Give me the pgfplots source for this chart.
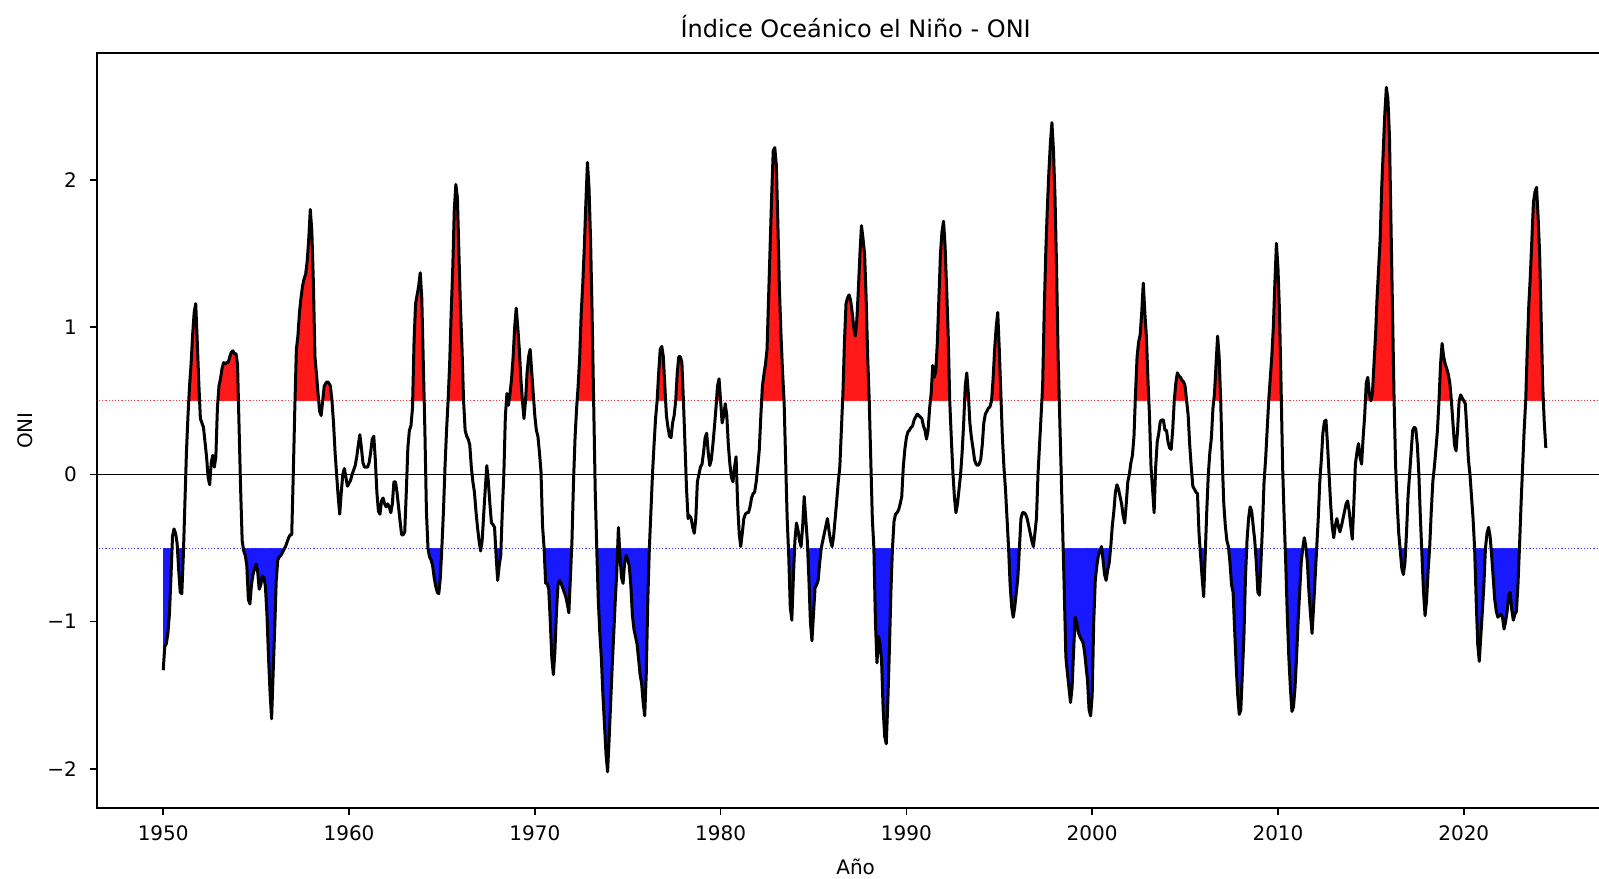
\documentclass[border=0pt]{standalone}
\usepackage{fontspec}
\setmainfont{DejaVu Sans}
\usepackage{pgfplots}
\usepackage{pgfplotstable}
\pgfplotsset{compat=1.18}

\definecolor{nino}{RGB}{255,25,25}
\definecolor{nina}{RGB}{25,25,255}

% same frame for the filled overlays and for the main axis
\pgfplotsset{geo/.style={
  at={(48.35pt,35pt)}, anchor=south west,
  scale only axis, width=758.95pt, height=377.5pt,
  xmin=1946.42, xmax=2028.12, ymin=-2.266, ymax=2.863}}

% ONI, one running 3-month value per month (DJF ... NDJ), 1950 DJF to 2024 MJJ
\pgfplotstableread[row sep=\\]{
v\\
-1.33\\ -1.17\\ -1.15\\ -1.08\\ -0.95\\ -0.70\\ -0.42\\ -0.37\\ -0.40\\ -0.47\\ -0.65\\ -0.80\\
-0.81\\ -0.55\\ -0.20\\ 0.15\\ 0.40\\ 0.60\\ 0.75\\ 0.95\\ 1.10\\ 1.16\\ 0.90\\ 0.62\\
0.38\\ 0.35\\ 0.32\\ 0.22\\ 0.12\\ -0.02\\ -0.07\\ 0.08\\ 0.13\\ 0.05\\ 0.12\\ 0.45\\
0.60\\ 0.65\\ 0.72\\ 0.76\\ 0.75\\ 0.76\\ 0.76\\ 0.80\\ 0.83\\ 0.84\\ 0.82\\ 0.82\\
0.75\\ 0.32\\ -0.10\\ -0.45\\ -0.52\\ -0.55\\ -0.62\\ -0.85\\ -0.88\\ -0.75\\ -0.68\\ -0.64\\
-0.61\\ -0.66\\ -0.78\\ -0.75\\ -0.69\\ -0.70\\ -0.76\\ -0.95\\ -1.24\\ -1.48\\ -1.66\\ -1.35\\
-1.05\\ -0.72\\ -0.58\\ -0.56\\ -0.55\\ -0.53\\ -0.51\\ -0.49\\ -0.46\\ -0.43\\ -0.41\\ -0.41\\
0.00\\ 0.45\\ 0.85\\ 0.94\\ 1.10\\ 1.20\\ 1.28\\ 1.33\\ 1.36\\ 1.45\\ 1.60\\ 1.80\\
1.65\\ 1.30\\ 0.80\\ 0.68\\ 0.55\\ 0.43\\ 0.40\\ 0.50\\ 0.60\\ 0.62\\ 0.63\\ 0.62\\
0.60\\ 0.50\\ 0.35\\ 0.15\\ 0.00\\ -0.15\\ -0.27\\ -0.12\\ 0.00\\ 0.04\\ -0.02\\ -0.08\\
-0.06\\ -0.04\\ 0.00\\ 0.03\\ 0.06\\ 0.12\\ 0.20\\ 0.27\\ 0.18\\ 0.08\\ 0.05\\ 0.05\\
0.05\\ 0.08\\ 0.15\\ 0.24\\ 0.26\\ 0.10\\ -0.12\\ -0.25\\ -0.27\\ -0.18\\ -0.16\\ -0.20\\
-0.22\\ -0.20\\ -0.22\\ -0.26\\ -0.20\\ -0.05\\ -0.05\\ -0.12\\ -0.22\\ -0.32\\ -0.41\\ -0.41\\
-0.39\\ -0.12\\ 0.18\\ 0.30\\ 0.33\\ 0.45\\ 0.90\\ 1.16\\ 1.22\\ 1.28\\ 1.37\\ 1.20\\
0.75\\ 0.30\\ -0.25\\ -0.50\\ -0.56\\ -0.58\\ -0.62\\ -0.70\\ -0.76\\ -0.80\\ -0.81\\ -0.70\\
-0.49\\ -0.25\\ 0.05\\ 0.30\\ 0.50\\ 0.75\\ 1.10\\ 1.40\\ 1.80\\ 1.97\\ 1.88\\ 1.50\\
1.13\\ 0.85\\ 0.50\\ 0.30\\ 0.26\\ 0.24\\ 0.20\\ 0.05\\ -0.05\\ -0.12\\ -0.25\\ -0.36\\
-0.45\\ -0.52\\ -0.45\\ -0.27\\ -0.10\\ 0.06\\ -0.05\\ -0.20\\ -0.33\\ -0.34\\ -0.36\\ -0.55\\
-0.72\\ -0.62\\ -0.55\\ -0.25\\ 0.00\\ 0.40\\ 0.55\\ 0.47\\ 0.55\\ 0.65\\ 0.80\\ 1.00\\
1.13\\ 1.00\\ 0.85\\ 0.65\\ 0.50\\ 0.38\\ 0.50\\ 0.69\\ 0.80\\ 0.85\\ 0.70\\ 0.55\\
0.40\\ 0.30\\ 0.26\\ 0.15\\ 0.02\\ -0.35\\ -0.50\\ -0.74\\ -0.74\\ -0.78\\ -1.00\\ -1.25\\
-1.36\\ -1.20\\ -0.93\\ -0.75\\ -0.72\\ -0.74\\ -0.77\\ -0.80\\ -0.83\\ -0.88\\ -0.94\\ -0.70\\
-0.45\\ -0.05\\ 0.25\\ 0.45\\ 0.60\\ 0.80\\ 1.10\\ 1.30\\ 1.55\\ 1.85\\ 2.12\\ 1.95\\
1.60\\ 1.10\\ 0.50\\ -0.10\\ -0.50\\ -0.85\\ -1.08\\ -1.25\\ -1.50\\ -1.70\\ -1.90\\ -2.02\\
-1.80\\ -1.55\\ -1.30\\ -1.08\\ -0.85\\ -0.65\\ -0.36\\ -0.55\\ -0.70\\ -0.74\\ -0.60\\ -0.55\\
-0.58\\ -0.62\\ -0.75\\ -0.95\\ -1.05\\ -1.10\\ -1.15\\ -1.25\\ -1.36\\ -1.42\\ -1.55\\ -1.64\\
-1.35\\ -0.85\\ -0.50\\ -0.25\\ 0.00\\ 0.20\\ 0.38\\ 0.50\\ 0.69\\ 0.85\\ 0.87\\ 0.80\\
0.60\\ 0.40\\ 0.32\\ 0.26\\ 0.25\\ 0.35\\ 0.40\\ 0.50\\ 0.69\\ 0.80\\ 0.80\\ 0.76\\
0.50\\ 0.20\\ -0.10\\ -0.30\\ -0.28\\ -0.30\\ -0.36\\ -0.40\\ -0.30\\ -0.05\\ 0.00\\ 0.05\\
0.07\\ 0.15\\ 0.25\\ 0.28\\ 0.15\\ 0.06\\ 0.10\\ 0.20\\ 0.32\\ 0.45\\ 0.60\\ 0.65\\
0.50\\ 0.35\\ 0.40\\ 0.48\\ 0.40\\ 0.20\\ 0.07\\ -0.02\\ -0.05\\ 0.05\\ 0.12\\ -0.20\\
-0.40\\ -0.49\\ -0.40\\ -0.30\\ -0.27\\ -0.26\\ -0.26\\ -0.22\\ -0.16\\ -0.13\\ -0.12\\ -0.05\\
0.05\\ 0.17\\ 0.40\\ 0.60\\ 0.68\\ 0.75\\ 0.85\\ 1.20\\ 1.55\\ 1.90\\ 2.20\\ 2.22\\
2.10\\ 1.70\\ 1.26\\ 0.95\\ 0.70\\ 0.50\\ 0.10\\ -0.30\\ -0.55\\ -0.90\\ -0.99\\ -0.70\\
-0.45\\ -0.33\\ -0.38\\ -0.45\\ -0.49\\ -0.35\\ -0.15\\ -0.30\\ -0.45\\ -0.70\\ -1.00\\ -1.13\\
-0.95\\ -0.77\\ -0.75\\ -0.72\\ -0.60\\ -0.50\\ -0.45\\ -0.40\\ -0.35\\ -0.30\\ -0.38\\ -0.45\\
-0.49\\ -0.42\\ -0.30\\ -0.18\\ -0.05\\ 0.05\\ 0.30\\ 0.55\\ 0.90\\ 1.16\\ 1.20\\ 1.22\\
1.18\\ 1.10\\ 1.00\\ 0.94\\ 1.05\\ 1.26\\ 1.50\\ 1.69\\ 1.60\\ 1.50\\ 1.20\\ 0.80\\
0.50\\ 0.10\\ -0.30\\ -0.50\\ -1.00\\ -1.28\\ -1.10\\ -1.15\\ -1.27\\ -1.60\\ -1.78\\ -1.83\\
-1.55\\ -1.20\\ -0.80\\ -0.50\\ -0.32\\ -0.27\\ -0.26\\ -0.24\\ -0.20\\ -0.15\\ 0.05\\ 0.17\\
0.25\\ 0.29\\ 0.30\\ 0.32\\ 0.33\\ 0.37\\ 0.39\\ 0.41\\ 0.40\\ 0.39\\ 0.38\\ 0.33\\
0.30\\ 0.24\\ 0.30\\ 0.45\\ 0.55\\ 0.74\\ 0.66\\ 0.70\\ 0.90\\ 1.20\\ 1.50\\ 1.65\\
1.72\\ 1.55\\ 1.26\\ 0.95\\ 0.50\\ 0.25\\ 0.02\\ -0.15\\ -0.26\\ -0.20\\ -0.10\\ 0.00\\
0.15\\ 0.35\\ 0.60\\ 0.69\\ 0.55\\ 0.35\\ 0.25\\ 0.18\\ 0.10\\ 0.07\\ 0.06\\ 0.07\\
0.10\\ 0.20\\ 0.35\\ 0.41\\ 0.43\\ 0.45\\ 0.46\\ 0.50\\ 0.65\\ 0.85\\ 1.00\\ 1.10\\
0.85\\ 0.55\\ 0.25\\ 0.05\\ -0.10\\ -0.30\\ -0.50\\ -0.75\\ -0.90\\ -0.97\\ -0.90\\ -0.80\\
-0.70\\ -0.50\\ -0.30\\ -0.26\\ -0.26\\ -0.27\\ -0.30\\ -0.35\\ -0.40\\ -0.45\\ -0.49\\ -0.40\\
-0.30\\ 0.00\\ 0.20\\ 0.40\\ 0.60\\ 1.10\\ 1.50\\ 1.80\\ 2.05\\ 2.25\\ 2.39\\ 2.20\\
1.88\\ 1.40\\ 0.80\\ 0.40\\ 0.00\\ -0.40\\ -0.80\\ -1.24\\ -1.35\\ -1.45\\ -1.55\\ -1.45\\
-1.20\\ -0.97\\ -1.00\\ -1.07\\ -1.10\\ -1.12\\ -1.14\\ -1.20\\ -1.30\\ -1.40\\ -1.60\\ -1.64\\
-1.50\\ -1.00\\ -0.72\\ -0.62\\ -0.55\\ -0.52\\ -0.49\\ -0.58\\ -0.68\\ -0.72\\ -0.65\\ -0.60\\
-0.49\\ -0.35\\ -0.25\\ -0.12\\ -0.07\\ -0.10\\ -0.15\\ -0.20\\ -0.28\\ -0.33\\ -0.20\\ -0.05\\
0.00\\ 0.08\\ 0.13\\ 0.26\\ 0.55\\ 0.80\\ 0.90\\ 0.95\\ 1.10\\ 1.30\\ 1.10\\ 0.94\\
0.65\\ 0.40\\ 0.05\\ -0.10\\ -0.26\\ 0.05\\ 0.22\\ 0.28\\ 0.36\\ 0.37\\ 0.37\\ 0.30\\
0.30\\ 0.22\\ 0.18\\ 0.17\\ 0.30\\ 0.50\\ 0.62\\ 0.69\\ 0.67\\ 0.66\\ 0.64\\ 0.63\\
0.60\\ 0.50\\ 0.40\\ 0.20\\ 0.05\\ -0.08\\ -0.10\\ -0.12\\ -0.13\\ -0.40\\ -0.55\\ -0.70\\
-0.83\\ -0.55\\ -0.25\\ 0.00\\ 0.15\\ 0.25\\ 0.45\\ 0.55\\ 0.75\\ 0.94\\ 0.80\\ 0.50\\
0.10\\ -0.20\\ -0.35\\ -0.45\\ -0.49\\ -0.60\\ -0.75\\ -0.80\\ -1.05\\ -1.30\\ -1.50\\ -1.63\\
-1.60\\ -1.35\\ -1.10\\ -0.70\\ -0.45\\ -0.30\\ -0.22\\ -0.25\\ -0.35\\ -0.45\\ -0.60\\ -0.80\\
-0.82\\ -0.60\\ -0.35\\ -0.05\\ 0.10\\ 0.30\\ 0.50\\ 0.65\\ 0.80\\ 1.00\\ 1.30\\ 1.57\\
1.40\\ 1.10\\ 0.60\\ 0.05\\ -0.30\\ -0.60\\ -0.95\\ -1.24\\ -1.45\\ -1.61\\ -1.58\\ -1.45\\
-1.24\\ -1.00\\ -0.80\\ -0.60\\ -0.50\\ -0.43\\ -0.49\\ -0.60\\ -0.80\\ -0.95\\ -1.08\\ -0.90\\
-0.70\\ -0.50\\ -0.30\\ -0.05\\ 0.10\\ 0.28\\ 0.36\\ 0.37\\ 0.20\\ 0.00\\ -0.20\\ -0.35\\
-0.43\\ -0.35\\ -0.30\\ -0.35\\ -0.39\\ -0.35\\ -0.30\\ -0.25\\ -0.20\\ -0.18\\ -0.25\\ -0.35\\
-0.44\\ -0.20\\ 0.07\\ 0.15\\ 0.21\\ 0.12\\ 0.07\\ 0.25\\ 0.40\\ 0.62\\ 0.66\\ 0.55\\
0.50\\ 0.55\\ 0.75\\ 0.94\\ 1.20\\ 1.40\\ 1.60\\ 1.95\\ 2.20\\ 2.45\\ 2.63\\ 2.55\\
2.30\\ 1.70\\ 1.10\\ 0.50\\ 0.05\\ -0.20\\ -0.40\\ -0.52\\ -0.64\\ -0.68\\ -0.60\\ -0.40\\
-0.15\\ 0.00\\ 0.15\\ 0.30\\ 0.32\\ 0.31\\ 0.20\\ 0.00\\ -0.30\\ -0.55\\ -0.80\\ -0.96\\
-0.85\\ -0.65\\ -0.49\\ -0.25\\ -0.05\\ 0.05\\ 0.17\\ 0.30\\ 0.50\\ 0.75\\ 0.89\\ 0.80\\
0.75\\ 0.72\\ 0.68\\ 0.62\\ 0.50\\ 0.35\\ 0.20\\ 0.16\\ 0.30\\ 0.50\\ 0.54\\ 0.52\\
0.50\\ 0.48\\ 0.30\\ 0.10\\ 0.00\\ -0.15\\ -0.30\\ -0.50\\ -0.85\\ -1.15\\ -1.27\\ -1.10\\
-0.93\\ -0.75\\ -0.50\\ -0.40\\ -0.36\\ -0.42\\ -0.55\\ -0.70\\ -0.85\\ -0.93\\ -0.97\\ -0.96\\
-0.95\\ -0.97\\ -1.05\\ -1.00\\ -0.93\\ -0.82\\ -0.80\\ -0.92\\ -0.99\\ -0.95\\ -0.93\\ -0.75\\
-0.49\\ -0.20\\ 0.05\\ 0.30\\ 0.50\\ 0.85\\ 1.15\\ 1.35\\ 1.60\\ 1.85\\ 1.92\\ 1.95\\
1.75\\ 1.50\\ 1.05\\ 0.60\\ 0.35\\ 0.18\\
}\oni

\begin{document}
\begin{tikzpicture}
% red: area between the curve and 0, kept only above 0.5
\begin{scope}
  \clip (0pt,238.58pt) rectangle (900pt,500pt);
  \begin{axis}[geo, hide axis]
    \addplot[fill=nino, draw=none] table[x expr=1950+\coordindex/12, y=v] {\oni}
      -- (axis cs:2024.41667,0) -- (axis cs:1950,0) -- cycle;
  \end{axis}
\end{scope}
% blue: area between the curve and 0, kept only below -0.5
\begin{scope}
  \clip (0pt,-100pt) rectangle (900pt,164.98pt);
  \begin{axis}[geo, hide axis]
    \addplot[fill=nina, draw=none] table[x expr=1950+\coordindex/12, y=v] {\oni}
      -- (axis cs:2024.41667,0) -- (axis cs:1950,0) -- cycle;
  \end{axis}
\end{scope}

\begin{axis}[
  geo,
  xtick={1950,1960,1970,1980,1990,2000,2010,2020},
  xticklabels={1950,1960,1970,1980,1990,2000,2010,2020},
  ytick={-2,-1,0,1,2},
  yticklabels={−2,−1,0,1,2},
  tick align=outside, xtick pos=bottom, ytick pos=left,
  major tick length=3.5pt,
  every tick/.style={black, line width=0.8pt},
  axis line style={black, line width=0.8pt},
  ticklabel style={font=\fontsize{10}{12}\selectfont, text=black},
  xticklabel style={anchor=base, inner sep=0pt, yshift=-12.6pt},
  yticklabel style={anchor=east, inner sep=0pt, xshift=-6.2pt},
  title={Índice Oceánico el Niño - ONI},
  every axis title shift=0pt,
  title style={font=\fontsize{12}{14}\selectfont, anchor=base, yshift=7.8pt},
  xlabel={Año},
  ylabel={ONI},
  every axis x label/.style={at={(axis description cs:0.5,0)}, anchor=base, yshift=-33pt, font=\fontsize{10}{12}\selectfont},
  every axis y label/.style={at={(axis description cs:-0.0423,0.5)}, anchor=base, rotate=90, font=\fontsize{10}{12}\selectfont},
]
  \addplot[black, line width=0.6pt, forget plot] coordinates {(1940,0) (2030,0)};
  \addplot[red!75, line width=0.5pt, dash pattern=on 0.6pt off 1pt, forget plot] coordinates {(1940,0.5) (2030,0.5)};
  \addplot[blue!75, line width=0.5pt, dash pattern=on 0.6pt off 1pt, forget plot] coordinates {(1940,-0.5) (2030,-0.5)};
  \addplot[black, line width=1.5pt, line join=round] table[x expr=1950+\coordindex/12, y=v] {\oni};
\end{axis}
\pgfresetboundingbox
\useasboundingbox (0,0) rectangle (799.5pt,439pt);
\end{tikzpicture}
\end{document}
